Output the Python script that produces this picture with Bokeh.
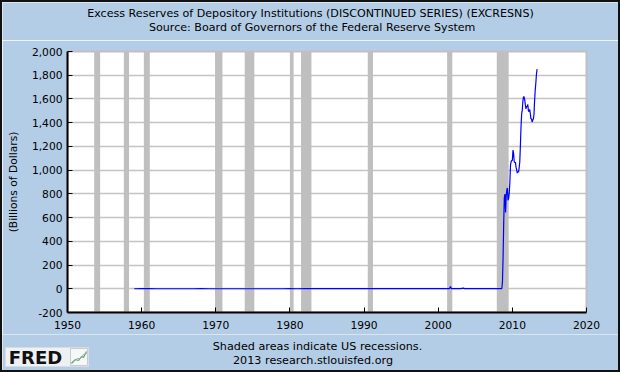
from bokeh.plotting import figure
from bokeh.models import FixedTicker, NumeralTickFormatter, Range1d
from bokeh.core.properties import value
from bokeh.embed import file_html
from bokeh.resources import INLINE

# ---- data (billions of dollars) ----
title_1 = "Excess Reserves of Depository Institutions (DISCONTINUED SERIES) (EXCRESNS)"
title_2 = "Source: Board of Governors of the Federal Reserve System"
footer_1 = "Shaded areas indicate US recessions."
footer_2 = "2013 research.stlouisfed.org"
y_label = "(Billions of Dollars)"

x_ticks = [1950, 1960, 1970, 1980, 1990, 2000, 2010, 2020]
y_ticks = [-200, 0, 200, 400, 600, 800, 1000, 1200, 1400, 1600, 1800, 2000]

# NBER recessions (decimal years)
rec_start = [1953.6, 1957.6, 1960.3, 1969.9, 1973.9, 1980.0, 1981.5, 1990.5, 2001.2, 2007.9]
rec_end = [1954.4, 1958.3, 1961.1, 1970.9, 1975.2, 1980.5, 1982.9, 1991.2, 2001.9, 2009.5]

# annual readings 1959-2000 (essentially zero on this scale)
early_years = list(range(1959, 2001))
early_values = [0.4, 0.5, 0.6, 0.4, 0.4, 0.4, 0.4, 0.4, 0.4, 0.5, 0.3, 0.2,
                0.3, 0.2, 0.2, 0.3, 0.2, 0.3, 0.2, 0.3, 0.4, 0.6, 0.4, 0.5,
                0.7, 0.8, 1.1, 1.4, 1.0, 1.0, 0.9, 1.3, 1.0, 1.1, 1.1, 1.1,
                1.1, 1.4, 1.1, 1.4, 1.4, 1.2]
# 2001-2007 readings (spike after Sep 2001)
mid_years = [2001.0, 2001.5, 2001.67, 2001.75, 2002.0, 2003.0, 2003.4, 2003.5,
             2004.0, 2005.0, 2006.0, 2007.0, 2007.9]
mid_values = [1.3, 1.2, 19.0, 1.6, 1.5, 1.7, 6.0, 1.5, 1.8, 1.7, 1.8, 1.6, 2.1]

# monthly Jan 2008 - May 2013
late_year = 2008
late_values = [1.6, 1.6, 1.6, 1.8, 1.9, 2.1, 1.9, 1.9, 60, 267, 558, 767,
               798, 643, 777, 833, 849, 746, 763, 808, 902, 1042, 1072, 1080,
               1082, 1169, 1144, 1071, 1063, 1065, 1023, 1002, 975, 990, 982, 1018,
               1069, 1206, 1364, 1472, 1504, 1579, 1618, 1617, 1594, 1551, 1517, 1539,
               1536, 1553, 1498, 1495, 1512, 1480, 1432, 1435, 1405, 1420, 1432, 1468,
               1586, 1673, 1735, 1808, 1852]

late_years = [late_year + i / 12.0 for i in range(len(late_values))]
xs = early_years + mid_years + late_years
ys = early_values + mid_values + late_values

FONT = "DejaVu Sans"
BG = "#b4cde6"
EDGE = "2px solid #111111"
W = 620   # outer width; canvas starts inside the 2px CSS border


def strip(h, extra_styles):
    s = figure(width=W, height=h, x_range=Range1d(0, W), y_range=Range1d(h, 0),
               output_backend="svg", toolbar_location=None, title=None,
               x_axis_type=None, y_axis_type=None, min_border=0,
               background_fill_color=BG, border_fill_color=BG)
    s.outline_line_color = None
    s.grid.visible = False
    st = {"border-left": EDGE, "border-right": EDGE}
    st.update(extra_styles)
    s.styles = st
    return s


# ---- header strip ----
hdr = strip(40, {"border-top": EDGE})
hdr.text(x=[308, 309.7], y=[10.8, 24.8], text=[title_1, title_2],
         text_font=value(FONT), text_font_size="11.1px", text_color="black",
         text_align="center", text_baseline="middle")

# ---- main chart ----
p = figure(width=W, height=294, x_range=Range1d(1950, 2020), y_range=Range1d(-200, 2000),
           output_backend="svg", toolbar_location=None, title=None,
           min_border_left=65, min_border_right=36, min_border_top=11, min_border_bottom=22,
           background_fill_color="white", border_fill_color=BG)
p.styles = {"border-left": EDGE, "border-right": EDGE}

p.outline_line_color = "#c0c0c0"
p.outline_line_width = 2

p.xgrid.visible = False
p.ygrid.grid_line_color = "#c4c4c4"
p.ygrid.grid_line_width = 1.5
p.ygrid.ticker = FixedTicker(ticks=y_ticks)

# recession shading
p.quad(left=rec_start, right=rec_end, bottom=-200, top=2000,
       fill_color="#bfbfbf", line_color=None)

# series
p.line(xs, ys, line_color="#0000ff", line_width=1.2)

for ax in (p.xaxis[0], p.yaxis[0]):
    ax.axis_line_color = "black"
    ax.axis_line_width = 2
    ax.major_tick_in = 5
    ax.major_tick_out = 0
    ax.major_tick_line_color = "black"
    ax.minor_tick_line_color = None
    ax.major_label_text_font = FONT
    ax.major_label_text_font_size = "10.7px"
    ax.major_label_text_color = "black"

p.xaxis.ticker = FixedTicker(ticks=x_ticks)
p.xaxis.major_label_standoff = 8
p.yaxis.ticker = FixedTicker(ticks=y_ticks)
p.yaxis.formatter = NumeralTickFormatter(format="0,0")
p.yaxis.major_label_standoff = 5
p.yaxis.axis_label = y_label
p.yaxis.axis_label_text_font = FONT
p.yaxis.axis_label_text_font_size = "10.7px"
p.yaxis.axis_label_text_font_style = "normal"
p.yaxis.axis_label_text_color = "black"
p.yaxis.axis_label_standoff = 9

# ---- footer strip ----
ftr = strip(38, {"border-bottom": EDGE})
ftr.text(x=[315, 310.5], y=[12, 25.5], text=[footer_1, footer_2],
         text_font=value(FONT), text_font_size="11.2px", text_color="black",
         text_align="center", text_baseline="middle")
# FRED logo
ftr.quad(left=[3], right=[86], top=[13], bottom=[32], fill_color="#eef0f2",
         line_color="#d8dde2", line_width=1)
ftr.text(x=[33], y=[23], text=["FRED"], text_font=value(FONT), text_font_size="18px",
         text_font_style="bold", text_color="#111111", text_align="center",
         text_baseline="middle")
ftr.quad(left=[68], right=[85], top=[14], bottom=[31], fill_color="#f6f8f8",
         line_color="#c8ccd0", line_width=1)
ftr.line([69, 73, 76, 79, 81, 84], [29, 25, 26, 22, 23, 17], line_color="#6aa84f", line_width=1.2)
ftr.line([69, 72, 75, 78, 81, 84], [28, 26, 24, 24, 20, 19], line_color="#8aa8d0", line_width=1)

open("out.html", "w").write(file_html([hdr, p, ftr], INLINE))
